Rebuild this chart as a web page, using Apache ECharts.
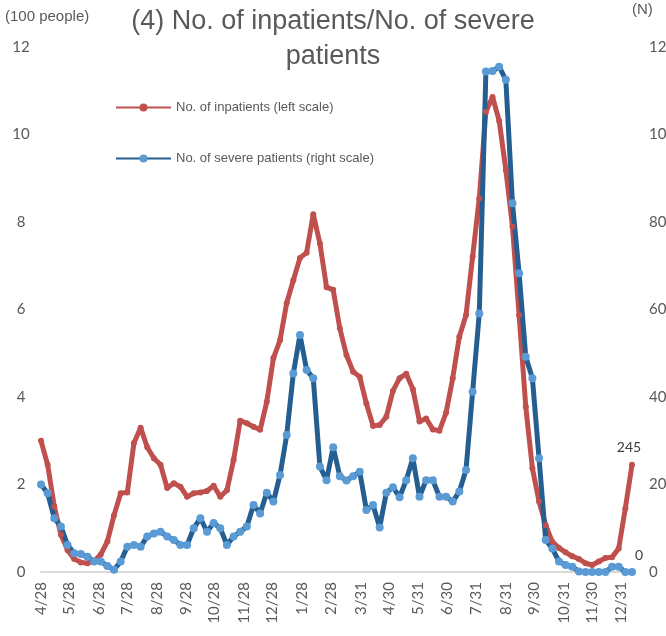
<!DOCTYPE html>
<html>
<head>
<meta charset="utf-8">
<script src="https://cdn.jsdelivr.net/npm/echarts@6/dist/echarts.min.js"></script>
<style>
  html, body { margin: 0; padding: 0; background: #fff; }
  #main { width: 666px; height: 636px; }
</style>
</head>
<body>
<div id="main"></div>
<script>
// 週ごとのデータ（2020/4/28 から）
var firstWeek = '2020-04-28';
var lastDay = '2022-01-11';

// 入院患者数（百人、左軸）
var inpatients = [
  3.0, 2.45, 1.5, 0.85, 0.5, 0.3, 0.22, 0.2, 0.25, 0.4,
  0.7, 1.3, 1.8, 1.82, 2.95, 3.3, 2.85, 2.6, 2.45, 1.92,
  2.03, 1.95, 1.72, 1.8, 1.82, 1.85, 1.97, 1.72, 1.87, 2.56,
  3.46, 3.4, 3.32, 3.25, 3.89, 4.89, 5.3, 6.15, 6.67, 7.18,
  7.3, 8.18, 7.51, 6.51, 6.45, 5.57, 4.96, 4.58, 4.46, 3.85,
  3.34, 3.36, 3.55, 4.14, 4.43, 4.53, 4.18, 3.44, 3.51, 3.26,
  3.23, 3.64, 4.43, 5.38, 5.87, 7.21, 8.54, 10.52, 10.86, 10.31,
  9.19, 7.89, 5.87, 3.78, 2.37, 1.61, 1.07, 0.69, 0.55, 0.45,
  0.36, 0.3, 0.2, 0.16, 0.24, 0.32, 0.34, 0.54, 1.46, 2.45
];

// 重症者数（人、右軸）
var severe = [
  20, 18, 12.3, 10.4, 6.2, 4.3, 4.1, 3.5, 2.4, 2.4,
  1.4, 0.5, 2.4, 5.8, 6.2, 5.8, 8.1, 8.8, 9.2, 8.1,
  7.3, 6.2, 6.2, 10, 12.3, 9.2, 11.2, 10, 6.2, 8.1,
  9.2, 10.4, 15.3, 13.4, 18.1, 16.1, 22.2, 31.3, 45.4, 54.2,
  46.2, 44.3, 24.1, 21, 28.5, 21.9, 20.9, 21.9, 22.9, 14.2,
  15.3, 10.2, 18.1, 19.4, 17.1, 21, 26, 17.2, 21, 21,
  17.2, 17.2, 16.1, 18.4, 23.3, 41.2, 59.1, 114.4, 114.5, 115.5,
  112.5, 84.3, 68.3, 49.2, 44.3, 26, 7.3, 5.4, 2.4, 1.6,
  1.2, 0.1, 0, 0, 0, 0, 1.2, 1.2, 0, 0
];

var tickDates = [
  '2020-04-28', '2020-05-28', '2020-06-28', '2020-07-28', '2020-08-28',
  '2020-09-28', '2020-10-28', '2020-11-28', '2020-12-28', '2021-01-28',
  '2021-02-28', '2021-03-31', '2021-04-30', '2021-05-31', '2021-06-30',
  '2021-07-31', '2021-08-31', '2021-09-30', '2021-10-31', '2021-11-30',
  '2021-12-31'
];

var DAY = 86400000;
function dayKey(t) { return new Date(t).toISOString().slice(0, 10); }

// 日単位のカテゴリ軸
var days = [];
var t0 = Date.parse(firstWeek + 'T00:00:00Z');
var t1 = Date.parse(lastDay + 'T00:00:00Z');
for (var t = t0; t <= t1; t += DAY) {
    days.push(dayKey(t));
}
var tickSet = {};
tickDates.forEach(function (d) { tickSet[d] = true; });

function weekly(values, labelStyle) {
    return values.map(function (v, i) {
        var item = { value: [dayKey(t0 + i * 7 * DAY), v] };
        if (i === values.length - 1) {
            item.label = labelStyle;
        }
        return item;
    });
}

var gray = '#595959';
var chart = echarts.init(document.getElementById('main'));

chart.setOption({
    animation: false,
    graphic: [
        {
            type: 'text', x: 333, y: 4,
            style: {
                text: '(4) No. of inpatients/No. of severe\npatients',
                font: '27px "Liberation Sans"', fill: gray,
                textAlign: 'center', lineHeight: 35
            }
        },
        { type: 'text', left: 5, top: 9, style: { text: '(100 people)', font: '15px "Liberation Sans"', fill: gray } },
        { type: 'text', left: 632, top: 2, style: { text: '(N)', font: '15px "Liberation Sans"', fill: gray } }
    ],
    legend: {
        orient: 'vertical',
        left: 110,
        top: 96,
        itemWidth: 55,
        itemHeight: 10,
        itemGap: 38,
        textStyle: { fontFamily: 'Liberation Sans', fontSize: 13, color: gray },
        data: ['No. of inpatients (left scale)', 'No. of severe patients (right scale)']
    },
    grid: { left: 41, right: 34, top: 47, bottom: 64, outerBoundsMode: 'none' },
    xAxis: {
        type: 'category',
        data: days,
        boundaryGap: false,
        axisLine: { lineStyle: { color: '#D9D9D9', width: 2 } },
        axisTick: { show: false },
        axisLabel: {
            interval: function (i, v) { return !!tickSet[v]; },
            rotate: 90,
            margin: 10,
            fontFamily: 'Lato',
            fontSize: 15,
            color: gray,
            formatter: function (v) {
                var p = v.split('-');
                return parseInt(p[1], 10) + '/' + parseInt(p[2], 10);
            }
        }
    },
    yAxis: [{
        type: 'value',
        min: 0, max: 12, interval: 2,
        splitLine: { show: false },
        axisLine: { show: false },
        axisTick: { show: false },
        axisLabel: { fontFamily: 'Lato', fontSize: 15, color: gray, align: 'center', margin: 20 }
    }, {
        type: 'value',
        position: 'right',
        min: 0, max: 120, interval: 20,
        splitLine: { show: false },
        axisLine: { show: false },
        axisTick: { show: false },
        axisLabel: { fontFamily: 'Lato', fontSize: 15, color: gray, align: 'left', margin: 17 }
    }],
    series: [{
        name: 'No. of inpatients (left scale)',
        type: 'line',
        yAxisIndex: 0,
        symbol: 'circle',
        symbolSize: 6,
        showAllSymbol: true,
        lineStyle: { color: '#C0504D', width: 5 },
        itemStyle: { color: '#C0504D' },
        data: weekly(inpatients, {
            show: true, position: 'top', distance: 7, offset: [-3, 0],
            fontFamily: 'Lato', fontSize: 14, color: '#404040',
            formatter: function (p) { return Math.round(p.value[1] * 100); }
        })
    }, {
        name: 'No. of severe patients (right scale)',
        type: 'line',
        yAxisIndex: 1,
        symbol: 'circle',
        symbolSize: 8,
        showAllSymbol: true,
        lineStyle: { color: '#255E91', width: 5 },
        itemStyle: { color: '#5B9BD5' },
        data: weekly(severe, {
            show: true, position: 'top', distance: 6, offset: [7, 0],
            fontFamily: 'Lato', fontSize: 14, color: '#404040',
            formatter: function (p) { return Math.round(p.value[1]); }
        })
    }]
});
</script>
</body>
</html>
